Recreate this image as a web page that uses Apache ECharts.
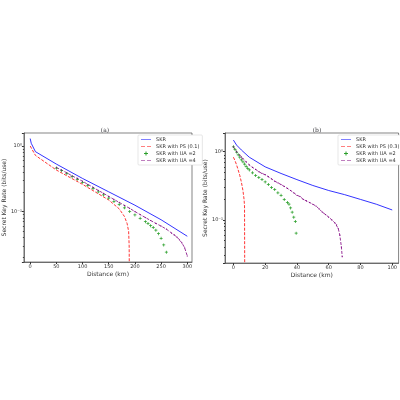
<!DOCTYPE html><html><head><meta charset="utf-8"><script src="https://cdn.jsdelivr.net/npm/echarts@6/dist/echarts.min.js"></script></head><body style="margin:0"><div id="c" style="width:400px;height:400px"></div><script>
const aSkr=[[0,1.3],[2,1.1],[10,0.82],[50,0.53],[100,0.32],[150,0.2],[200,0.125],[250,0.075],[300,0.042]];
const aPs=[[0,1.0],[10,0.72],[50,0.43],[100,0.26],[150,0.15],[170,0.11],[180,0.084],[185,0.066],[188,0.05],[189,0.03],[189.2,0.017]];
const aUa2=[[50,0.46],[60,0.42],[70,0.38],[80,0.34],[90,0.31],[100,0.28],[110,0.25],[120,0.225],[130,0.2],[140,0.18],[150,0.16],[160,0.143],[170,0.128],[180,0.114],[190,0.1],[200,0.089],[210,0.079],[220,0.07],[225,0.066],[230,0.061],[235,0.057],[240,0.052],[245,0.046],[250,0.039],[255,0.031],[260,0.024]];
const aUa4=[[50,0.47],[60,0.43],[70,0.39],[80,0.35],[90,0.32],[100,0.29],[110,0.26],[120,0.235],[130,0.21],[140,0.19],[150,0.17],[160,0.153],[170,0.138],[180,0.124],[190,0.112],[200,0.1],[210,0.09],[220,0.081],[230,0.073],[240,0.066],[250,0.06],[260,0.054],[270,0.047],[275,0.044],[280,0.041],[285,0.037],[290,0.033],[295,0.028],[300,0.021]];
const bSkr=[[0,1.48],[2,1.25],[5,1.06],[10,0.83],[20,0.6],[30,0.48],[40,0.39],[50,0.32],[60,0.27],[70,0.235],[80,0.2],[90,0.17],[100,0.14]];
const bPs=[[0,0.83],[1,0.74],[2,0.64],[3,0.54],[4,0.45],[5,0.36],[6,0.27],[6.7,0.2],[7,0.16],[7.1,0.0234]];
const bUa2=[[0,1.18],[1,1.08],[2,0.99],[3,0.9],[4,0.83],[5,0.76],[6,0.71],[7,0.66],[8,0.61],[9,0.57],[10,0.54],[12,0.49],[14,0.45],[16,0.42],[18,0.39],[20,0.36],[22,0.33],[24,0.3],[26,0.28],[28,0.25],[30,0.23],[32,0.2],[34,0.18],[35,0.17],[36,0.15],[37,0.13],[38,0.11],[39,0.095],[39.5,0.064]];
const bUa4=[[0,1.18],[2,1.0],[4,0.89],[5,0.84],[6,0.79],[8,0.71],[10,0.64],[12,0.59],[14,0.55],[16,0.51],[18,0.48],[20,0.46],[22,0.43],[24,0.4],[26,0.37],[28,0.35],[30,0.33],[32,0.31],[34,0.29],[36,0.27],[38,0.25],[40,0.23],[42,0.22],[44,0.2],[46,0.19],[48,0.18],[50,0.17],[52,0.16],[54,0.145],[56,0.13],[58,0.12],[60,0.11],[62,0.1],[64,0.09],[65,0.085],[66,0.075],[67,0.06],[68,0.04],[68.5,0.029]];
const aTicks=[0,50,100,150,200,250,300];
const bTicks=[0,20,40,60,80,100];
const names=['SKR','SKR with PS (0.1)','SKR with UA =2','SKR with UA =4'];
const namesB=['SKR','SKR with PS (0.3)','SKR with UA =2 ','SKR with UA =4 '];
const plus='path://M3,0H5V3H8V5H5V8H3V5H0V3H3Z';
const f='DejaVu Sans';
function sup(v){const e=Math.round(Math.log10(v));if(Math.abs(Math.log10(v)-e)>1e-6)return '';return e===0?'10⁰':'10⁻'+'¹²³'[-e-1];}
function yax(i,min,max){return {type:'log',gridIndex:i,min:min,max:max,logBase:10,name:'Secret Key Rate (bits/use)',nameLocation:'middle',nameGap:14,nameTextStyle:{fontSize:6,fontFamily:f},axisLine:{show:true,onZero:false,lineStyle:{color:'#333',width:0.6}},axisTick:{length:2,lineStyle:{color:'#333'}},minorTick:{show:true,splitNumber:9,length:1},splitLine:{show:false},axisLabel:{fontSize:5,fontFamily:f,color:'#333',margin:2,showMinLabel:false,showMaxLabel:false,formatter:sup}};}
function xax(i,min,max,t){return {type:'value',gridIndex:i,min:min,max:max,name:'Distance (km)',nameLocation:'middle',nameGap:9,nameTextStyle:{fontSize:6,fontFamily:f},axisLine:{onZero:false,lineStyle:{color:'#333',width:0.6}},axisTick:{length:2,customValues:t},splitLine:{show:false},axisLabel:{fontSize:5,fontFamily:f,color:'#333',margin:2,customValues:t}};}
function ser(i,n,d){return [
{name:n[0],type:'line',xAxisIndex:i,yAxisIndex:i,data:d[0],showSymbol:false,lineStyle:{color:'#0000ff',width:0.8},itemStyle:{color:'#0000ff'}},
{name:n[1],type:'line',xAxisIndex:i,yAxisIndex:i,data:d[1],showSymbol:false,lineStyle:{color:'#ff0000',width:0.8,type:[3,1.5]},itemStyle:{color:'#ff0000'}},
{name:n[2],type:'line',xAxisIndex:i,yAxisIndex:i,data:d[2],symbol:plus,symbolSize:3,showSymbol:true,lineStyle:{width:0},itemStyle:{color:'#2ca02c'}},
{name:n[3],type:'line',xAxisIndex:i,yAxisIndex:i,data:d[3],symbol:'circle',symbolSize:1.2,showSymbol:true,lineStyle:{color:'#800080',width:0.8,type:[3,1.5]},itemStyle:{color:'#800080'}}];}
function leg(n,left){return {data:[{name:n[0],icon:'path://M0,4H20V5H0Z'},{name:n[1],icon:'path://M0,4H8V5H0ZM12,4H20V5H12Z'},{name:n[2],icon:plus},{name:n[3],icon:'path://M0,4H8V5H0ZM12,4H20V5H12Z'}],left:left,top:135,orient:'vertical',itemWidth:10,itemHeight:4,itemGap:2,padding:[2,3],borderColor:'#ccc',borderWidth:0.5,borderRadius:1,backgroundColor:'#fff',textStyle:{fontSize:5,fontFamily:f,color:'#333'}};}
const ch=echarts.init(document.getElementById('c'));
ch.setOption({animation:false,backgroundColor:'#fff',
title:[{text:'(a)',left:100,top:122,textAlign:'center',textStyle:{fontSize:6,fontWeight:'normal',fontFamily:'DejaVu Serif'}},{text:'(b)',left:312,top:122,textAlign:'center',textStyle:{fontSize:6,fontWeight:'normal',fontFamily:'DejaVu Serif'}}],
grid:[{left:21,top:133,width:171,height:129,show:true,borderColor:'#333',borderWidth:0.6},{left:225,top:133,width:174,height:130,show:true,borderColor:'#333',borderWidth:0.6}],
legend:[leg(names,138),leg(namesB,338)],
xAxis:[xax(0,-12,309,aTicks),xax(1,-5.3,104,bTicks)],
yAxis:[yax(0,0.017,1.58),yax(1,0.0234,1.88)],
series:[...ser(0,names,[aSkr,aPs,aUa2,aUa4]),...ser(1,namesB,[bSkr,bPs,bUa2,bUa4])]});
</script></body></html>
